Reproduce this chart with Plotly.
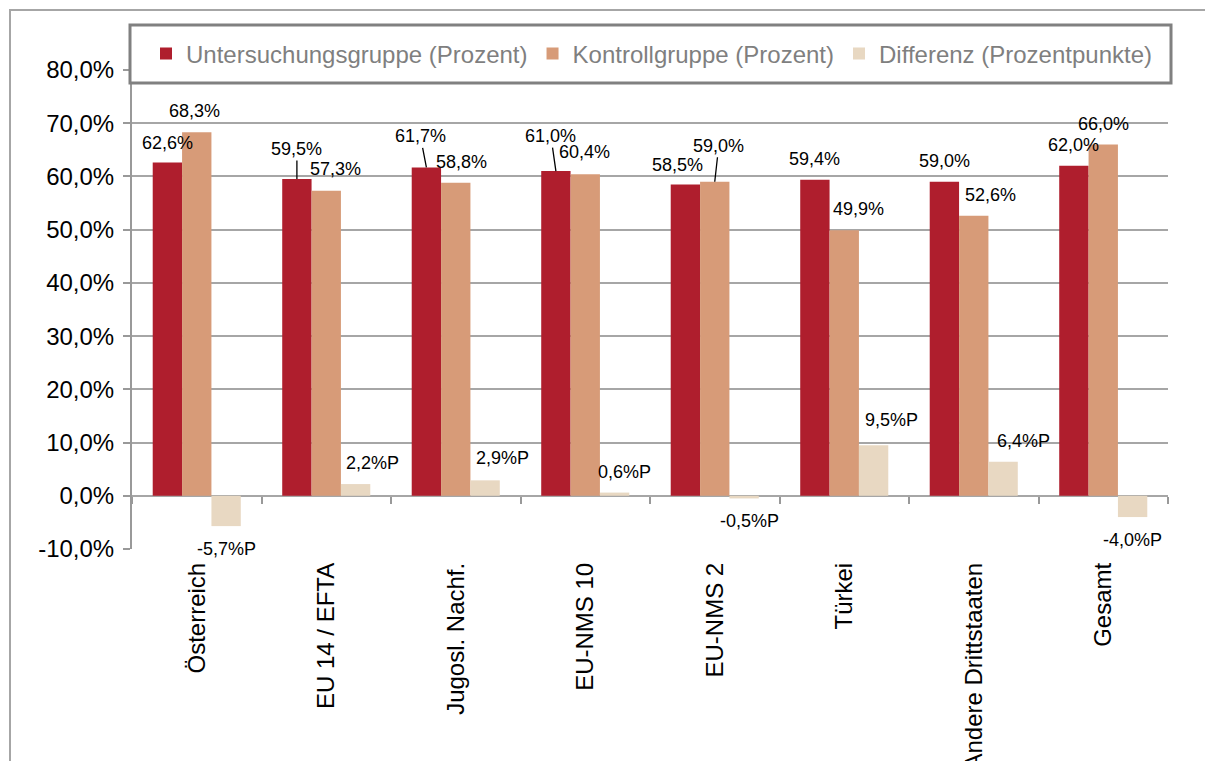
import plotly.graph_objects as go

# Daten
kategorien = ["Österreich", "EU 14 / EFTA", "Jugosl. Nachf.", "EU-NMS 10", "EU-NMS 2",
              "Türkei", "Andere Drittstaaten", "Gesamt"]
untersuchung = [62.6, 59.5, 61.7, 61.0, 58.5, 59.4, 59.0, 62.0]
kontrolle = [68.3, 57.3, 58.8, 60.4, 59.0, 49.9, 52.6, 66.0]
differenz = [-5.7, 2.2, 2.9, 0.6, -0.5, 9.5, 6.4, -4.0]
y_ticks = [-10, 0, 10, 20, 30, 40, 50, 60, 70, 80]

namen = ["Untersuchungsgruppe (Prozent)", "Kontrollgruppe (Prozent)", "Differenz (Prozentpunkte)"]
farben = ["#AF1E2D", "#D79B78", "#E8D8C2"]

# Label-Verschiebungen in Pixel (dx, dy) relativ zum Balkenende
versatz = [
    [(0, -20), (0, -30), (-6, -31), (-5, -35), (-8, -19), (0, -21), (0, -21), (0, -21)],
    [(-2, -21), (9, -22), (6, -21), (-1, -22), (4, -36), (14, -21), (17, -21), (0, -21)],
    [(0, 23), (17, -21), (17, -22), (10, -21), (5, 23), (18, -25), (20, -21), (0, 23)],
]
leader = [[False, True, True, True, False, False, False, False],
          [False, False, False, False, True, False, False, False],
          [False] * 8]

BARGAP = 0.32
OFF = 8                      # Seitenrand des Browsers
W, H = 1213 - OFF, 769 - 2 * OFF
ML = 132 - OFF
MT = 70 - OFF
MR = W - (1168 - OFF)
MB = H - (549 - OFF)
plot_w = W - ML - MR
plot_h = H - MT - MB


def fmt(v, suffix):
    return f"{v:.1f}".replace(".", ",") + suffix


fig = go.Figure()

serien = [untersuchung, kontrolle, differenz]
for name, werte, farbe in zip(namen, serien, farben):
    fig.add_trace(go.Bar(
        name=name,
        x=kategorien,
        y=werte,
        marker=dict(color=farbe, line=dict(width=0)),
        hoverinfo="skip",
    ))

# unsichtbare Spur fuer die Teilstriche an der Nulllinie
fig.add_trace(go.Scatter(x=kategorien, y=[None] * len(kategorien), xaxis="x2",
                         showlegend=False, hoverinfo="skip"))

# Datenbeschriftungen
breite = (1 - BARGAP) / 3
annotations = []
for k, werte in enumerate(serien):
    suffix = "%P" if k == 2 else "%"
    for i, v in enumerate(werte):
        dx, dy = versatz[k][i]
        annotations.append(dict(
            x=i + (k - 1) * breite, y=v, xref="x", yref="y",
            text=fmt(v, suffix),
            showarrow=True, ax=dx, ay=dy,
            arrowhead=0, arrowwidth=1.3, standoff=0, startstandoff=0,
            arrowcolor="black" if leader[k][i] else "rgba(0,0,0,0)",
            font=dict(size=18, color="black"),
        ))


def px_x(px):
    return (px - OFF - ML) / plot_w


def px_y(py):
    return (H - MB - (py - OFF)) / plot_h


# Rahmen und Legendenkasten
shapes = [
    dict(type="rect", xref="paper", yref="paper",
         x0=px_x(10), x1=px_x(1211), y0=-0.6, y1=px_y(10),
         line=dict(color="#a6a6a6", width=2), layer="below"),
    dict(type="rect", xref="paper", yref="paper",
         x0=px_x(130), x1=px_x(1171), y0=px_y(83), y1=px_y(25),
         line=dict(color="#808080", width=3), fillcolor="white", layer="above"),
]

# Habillage
fig.update_layout(
    width=W, height=H,
    margin=dict(l=ML, r=MR, t=MT, b=MB, autoexpand=False),
    barmode="group", bargap=BARGAP, bargroupgap=0,
    plot_bgcolor="white", paper_bgcolor="white",
    separators=",.",
    font=dict(family="Liberation Sans, Arial, sans-serif", color="black"),
    showlegend=True,
    legend=dict(orientation="h", x=px_x(146), y=px_y(54), xanchor="left", yanchor="middle",
                font=dict(size=24, color="#7f7f7f"), bgcolor="rgba(0,0,0,0)", borderwidth=0),
    xaxis=dict(type="category", tickangle=-90, ticks="", showgrid=False, showline=False,
               automargin=False, tickfont=dict(size=24, color="black"), ticklabelstandoff=8),
    xaxis2=dict(overlaying="x", matches="x", anchor="free", position=10 / 90,
                ticks="outside", tickson="boundaries", ticklen=7, tickwidth=1.5,
                tickcolor="#999999", showticklabels=False, showgrid=False, showline=False),
    yaxis=dict(range=[-10, 80], tickvals=y_ticks, ticktext=[fmt(t, "%") for t in y_ticks],
               showgrid=True, gridcolor="#a6a6a6", gridwidth=1.5, zeroline=False,
               showline=True, linecolor="#999999", linewidth=2, automargin=False,
               ticks="outside", ticklen=7, tickwidth=1.5, tickcolor="#999999",
               tickfont=dict(size=24, color="black"), ticklabelstandoff=4),
    annotations=annotations,
    shapes=shapes,
)

fig.write_html("out.html")
